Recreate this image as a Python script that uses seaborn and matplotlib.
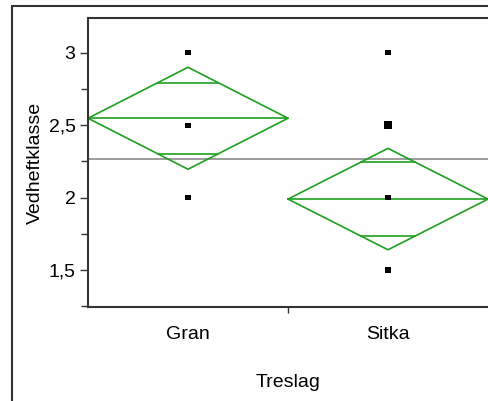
import matplotlib
matplotlib.use("Agg")
import matplotlib.pyplot as plt
from matplotlib.lines import Line2D
from matplotlib.ticker import FixedLocator, FuncFormatter
import seaborn as sns
import pandas as pd

# data
categories = ["Gran", "Sitka"]
means = [2.548, 1.99]
ci_half = [0.352, 0.35]
overlap_half = [0.245, 0.255]
grand_mean = 2.27

point_group = ["Gran", "Gran", "Gran", "Sitka", "Sitka", "Sitka", "Sitka"]
point_value = [3.0, 2.5, 2.0, 3.0, 2.5, 2.0, 1.5]
point_count = [1, 1, 1, 1, 2, 1, 1]

GREEN = "#1fa01f"
DARK = "#333333"
FS = 14

sns.set_style("white")
plt.rcParams["font.family"] = ["Liberation Sans", "DejaVu Sans"]
plt.rcParams["text.color"] = "black"
plt.rcParams["axes.labelcolor"] = "black"
plt.rcParams["xtick.labelcolor"] = "black"
plt.rcParams["ytick.labelcolor"] = "black"

fig = plt.figure(figsize=(4.88, 4.01), dpi=100)
ax = fig.add_axes([88 / 488, 94 / 401, 400 / 488, 289 / 401])

# means diamonds
for i, cat in enumerate(categories):
    x0, xc, x1 = i, i + 0.5, i + 1
    m, h = means[i], ci_half[i]
    ax.plot([x0, xc, x1, xc, x0], [m, m + h, m, m - h, m], color=GREEN, lw=1.2)
    ax.plot([x0, x1], [m, m], color=GREEN, lw=1.2)
    frac = 0.5 * (1 - overlap_half[i] / h)
    for s in (1, -1):
        ax.plot([xc - frac, xc + frac], [m + s * overlap_half[i]] * 2, color=GREEN, lw=1.2)

ax.axhline(grand_mean, color="#8a8a8a", lw=1.2, zorder=1)

df = pd.DataFrame({"x": [categories.index(g) + 0.5 for g in point_group],
                   "y": point_value, "n": point_count})
sns.scatterplot(data=df, x="x", y="y", size="n", sizes={1: 14, 2: 30},
                marker="s", color="black", edgecolor="none", legend=False, ax=ax, zorder=3)

ax.set_xlim(0, 2)
ax.set_ylim(1.245, 3.24)

ax.xaxis.set_major_locator(FixedLocator([0.5, 1.5]))
ax.xaxis.set_minor_locator(FixedLocator([1.0]))
ax.set_xticklabels(categories)
ax.yaxis.set_major_locator(FixedLocator([1.5, 2.0, 2.5, 3.0]))
ax.yaxis.set_minor_locator(FixedLocator([1.25, 1.75, 2.25, 2.75]))
ax.yaxis.set_major_formatter(FuncFormatter(lambda v, p: f"{v:g}".replace(".", ",")))

ax.tick_params(axis="y", which="major", length=6, width=1, color=DARK, labelsize=FS, pad=3, left=True)
ax.tick_params(axis="y", which="minor", length=5, width=1, color=DARK, left=True)
ax.tick_params(axis="x", which="major", length=0, labelsize=FS, pad=14)
ax.tick_params(axis="x", which="minor", length=4, width=1, color=DARK, bottom=True)

for side in ("left", "bottom", "top"):
    ax.spines[side].set_color(DARK)
    ax.spines[side].set_linewidth(1.5)
ax.spines["right"].set_visible(False)

ax.set_xlabel("Treslag", fontsize=FS, labelpad=22)
ax.set_ylabel("Vedheftklasse", fontsize=FS, labelpad=3)

# outer frame
fy = 1 - 5.5 / 401
fx = 11.5 / 488
fig.add_artist(Line2D([fx, 1], [fy, fy], transform=fig.transFigure, color=DARK, lw=1.5))
fig.add_artist(Line2D([fx, fx], [0, fy], transform=fig.transFigure, color=DARK, lw=1.5))

fig.savefig("out.png", dpi=100)
